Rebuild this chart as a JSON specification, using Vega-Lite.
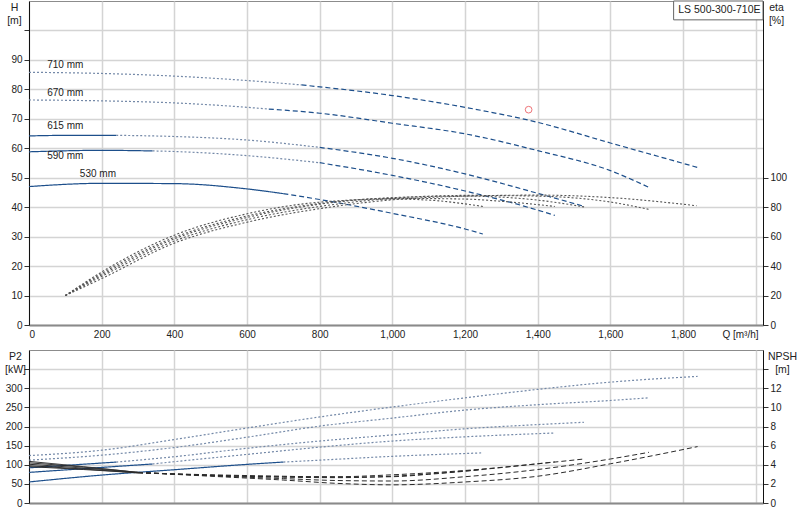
{
  "$schema": "https://vega.github.io/schema/vega-lite/v6.json",
  "background": "white",
  "padding": {"left": 4, "top": 0, "right": 2, "bottom": 4},
  "config": {
    "font": "Liberation Sans",
    "view": {"stroke": "#8c8c8c", "strokeWidth": 1},
    "axis": {
      "labelFont": "Liberation Sans",
      "labelFontSize": 10,
      "labelColor": "#222",
      "labelOverlap": false,
      "titleFont": "Liberation Sans",
      "titleFontSize": 10.5,
      "titleFontWeight": "normal",
      "titleColor": "#222",
      "gridColor": "#d4d4d4",
      "gridWidth": 1.5,
      "tickColor": "#333",
      "domainColor": "#111"
    }
  },
  "datasets": {
    "head": [
      {"d": "710", "zone": "2", "Q": 0, "H": 85.8},
      {"d": "710", "zone": "2", "Q": 200, "H": 85.4},
      {"d": "710", "zone": "2", "Q": 400, "H": 84.5},
      {"d": "710", "zone": "2", "Q": 600, "H": 83.0},
      {"d": "710", "zone": "2", "Q": 750, "H": 81.5},
      {"d": "710", "zone": "3", "Q": 750, "H": 81.5},
      {"d": "710", "zone": "3", "Q": 1000, "H": 77.9},
      {"d": "710", "zone": "3", "Q": 1200, "H": 73.9},
      {"d": "710", "zone": "3", "Q": 1400, "H": 68.8},
      {"d": "710", "zone": "3", "Q": 1600, "H": 61.8},
      {"d": "710", "zone": "3", "Q": 1840, "H": 53.5},
      {"d": "670", "zone": "2", "Q": 0, "H": 76.4},
      {"d": "670", "zone": "2", "Q": 200, "H": 76.1},
      {"d": "670", "zone": "2", "Q": 400, "H": 75.4},
      {"d": "670", "zone": "2", "Q": 600, "H": 73.9},
      {"d": "670", "zone": "2", "Q": 660, "H": 73.3},
      {"d": "670", "zone": "3", "Q": 660, "H": 73.3},
      {"d": "670", "zone": "3", "Q": 800, "H": 71.9},
      {"d": "670", "zone": "3", "Q": 1000, "H": 68.5},
      {"d": "670", "zone": "3", "Q": 1200, "H": 64.9},
      {"d": "670", "zone": "3", "Q": 1400, "H": 59.2},
      {"d": "670", "zone": "3", "Q": 1600, "H": 52.4},
      {"d": "670", "zone": "3", "Q": 1710, "H": 46.5},
      {"d": "615", "zone": "1", "Q": 0, "H": 64.2},
      {"d": "615", "zone": "1", "Q": 120, "H": 64.4},
      {"d": "615", "zone": "1", "Q": 240, "H": 64.4},
      {"d": "615", "zone": "2", "Q": 240, "H": 64.4},
      {"d": "615", "zone": "2", "Q": 400, "H": 64.0},
      {"d": "615", "zone": "2", "Q": 600, "H": 62.8},
      {"d": "615", "zone": "2", "Q": 800, "H": 60.3},
      {"d": "615", "zone": "3", "Q": 800, "H": 60.3},
      {"d": "615", "zone": "3", "Q": 1000, "H": 56.6},
      {"d": "615", "zone": "3", "Q": 1200, "H": 51.3},
      {"d": "615", "zone": "3", "Q": 1400, "H": 44.7},
      {"d": "615", "zone": "3", "Q": 1527, "H": 40.3},
      {"d": "590", "zone": "1", "Q": 0, "H": 58.8},
      {"d": "590", "zone": "1", "Q": 200, "H": 59.3},
      {"d": "590", "zone": "1", "Q": 340, "H": 59.1},
      {"d": "590", "zone": "2", "Q": 340, "H": 59.1},
      {"d": "590", "zone": "2", "Q": 400, "H": 58.9},
      {"d": "590", "zone": "2", "Q": 600, "H": 57.5},
      {"d": "590", "zone": "2", "Q": 800, "H": 55.1},
      {"d": "590", "zone": "3", "Q": 800, "H": 55.1},
      {"d": "590", "zone": "3", "Q": 1000, "H": 50.8},
      {"d": "590", "zone": "3", "Q": 1200, "H": 45.5},
      {"d": "590", "zone": "3", "Q": 1400, "H": 39.0},
      {"d": "590", "zone": "3", "Q": 1447, "H": 37.2},
      {"d": "530", "zone": "1", "Q": 0, "H": 47.0},
      {"d": "530", "zone": "1", "Q": 200, "H": 48.1},
      {"d": "530", "zone": "1", "Q": 400, "H": 48.0},
      {"d": "530", "zone": "1", "Q": 600, "H": 46.2},
      {"d": "530", "zone": "1", "Q": 700, "H": 44.6},
      {"d": "530", "zone": "3", "Q": 700, "H": 44.6},
      {"d": "530", "zone": "3", "Q": 800, "H": 42.6},
      {"d": "530", "zone": "3", "Q": 1000, "H": 37.9},
      {"d": "530", "zone": "3", "Q": 1200, "H": 32.6},
      {"d": "530", "zone": "3", "Q": 1249, "H": 30.9}
    ],
    "eta": [
      {"d": "530", "Q": 100, "eta": 20}, {"d": "530", "Q": 200, "eta": 36}, {"d": "530", "Q": 400, "eta": 61},
      {"d": "530", "Q": 600, "eta": 75.5}, {"d": "530", "Q": 800, "eta": 83.4}, {"d": "530", "Q": 1000, "eta": 85.5},
      {"d": "530", "Q": 1100, "eta": 84.8}, {"d": "530", "Q": 1249, "eta": 80.5},
      {"d": "590", "Q": 100, "eta": 20}, {"d": "590", "Q": 200, "eta": 35}, {"d": "590", "Q": 400, "eta": 59.5},
      {"d": "590", "Q": 600, "eta": 74}, {"d": "590", "Q": 800, "eta": 82.5}, {"d": "590", "Q": 1000, "eta": 86},
      {"d": "590", "Q": 1200, "eta": 85.5}, {"d": "590", "Q": 1300, "eta": 84}, {"d": "590", "Q": 1447, "eta": 80.5},
      {"d": "615", "Q": 100, "eta": 20}, {"d": "615", "Q": 200, "eta": 34}, {"d": "615", "Q": 400, "eta": 58.5},
      {"d": "615", "Q": 600, "eta": 73}, {"d": "615", "Q": 800, "eta": 82}, {"d": "615", "Q": 1000, "eta": 86.5},
      {"d": "615", "Q": 1200, "eta": 87.5}, {"d": "615", "Q": 1400, "eta": 84.8}, {"d": "615", "Q": 1532, "eta": 80},
      {"d": "670", "Q": 100, "eta": 20}, {"d": "670", "Q": 200, "eta": 33}, {"d": "670", "Q": 400, "eta": 57},
      {"d": "670", "Q": 600, "eta": 71.5}, {"d": "670", "Q": 800, "eta": 80.5}, {"d": "670", "Q": 1000, "eta": 86},
      {"d": "670", "Q": 1200, "eta": 88}, {"d": "670", "Q": 1400, "eta": 87.5}, {"d": "670", "Q": 1600, "eta": 83.5},
      {"d": "670", "Q": 1706, "eta": 78.5},
      {"d": "710", "Q": 100, "eta": 20}, {"d": "710", "Q": 200, "eta": 31.5}, {"d": "710", "Q": 400, "eta": 55.6},
      {"d": "710", "Q": 600, "eta": 69.8}, {"d": "710", "Q": 800, "eta": 79}, {"d": "710", "Q": 1000, "eta": 85},
      {"d": "710", "Q": 1200, "eta": 87.5}, {"d": "710", "Q": 1400, "eta": 88.2}, {"d": "710", "Q": 1600, "eta": 86.5},
      {"d": "710", "Q": 1837, "eta": 81}
    ],
    "labels": [
      {"label": "710 mm", "Q": 50, "H": 88.4},
      {"label": "670 mm", "Q": 50, "H": 78.9},
      {"label": "615 mm", "Q": 50, "H": 67.4},
      {"label": "590 mm", "Q": 50, "H": 57.5},
      {"label": "530 mm", "Q": 140, "H": 51.1}
    ],
    "box": [
      {"Q": 1774, "H": 103.6, "Q2": 2020, "H2": 110}
    ],
    "pump": [
      {"name": "LS 500-300-710E", "Q": 1900, "H": 106.8}
    ],
    "duty": [
      {"Q": 1375, "H": 73.1}
    ],
    "p2": [
      {"d": "710", "zone": "2", "Q": 0, "P2": 124}, {"d": "710", "zone": "2", "Q": 200, "P2": 138},
      {"d": "710", "zone": "2", "Q": 400, "P2": 166}, {"d": "710", "zone": "2", "Q": 600, "P2": 196},
      {"d": "710", "zone": "2", "Q": 800, "P2": 225}, {"d": "710", "zone": "2", "Q": 1000, "P2": 251},
      {"d": "710", "zone": "2", "Q": 1200, "P2": 275}, {"d": "710", "zone": "2", "Q": 1400, "P2": 297},
      {"d": "710", "zone": "2", "Q": 1600, "P2": 316}, {"d": "710", "zone": "2", "Q": 1840, "P2": 331},
      {"d": "670", "zone": "2", "Q": 0, "P2": 112}, {"d": "670", "zone": "2", "Q": 200, "P2": 125},
      {"d": "670", "zone": "2", "Q": 400, "P2": 145}, {"d": "670", "zone": "2", "Q": 600, "P2": 172},
      {"d": "670", "zone": "2", "Q": 800, "P2": 201}, {"d": "670", "zone": "2", "Q": 1000, "P2": 222},
      {"d": "670", "zone": "2", "Q": 1200, "P2": 243}, {"d": "670", "zone": "2", "Q": 1400, "P2": 257},
      {"d": "670", "zone": "2", "Q": 1600, "P2": 268}, {"d": "670", "zone": "2", "Q": 1706, "P2": 275},
      {"d": "615", "zone": "1", "Q": 0, "P2": 92}, {"d": "615", "zone": "1", "Q": 240, "P2": 107},
      {"d": "615", "zone": "2", "Q": 240, "P2": 107}, {"d": "615", "zone": "2", "Q": 400, "P2": 121},
      {"d": "615", "zone": "2", "Q": 600, "P2": 143}, {"d": "615", "zone": "2", "Q": 800, "P2": 162},
      {"d": "615", "zone": "2", "Q": 1000, "P2": 178}, {"d": "615", "zone": "2", "Q": 1200, "P2": 194},
      {"d": "615", "zone": "2", "Q": 1400, "P2": 205}, {"d": "615", "zone": "2", "Q": 1527, "P2": 211},
      {"d": "590", "zone": "1", "Q": 0, "P2": 80}, {"d": "590", "zone": "1", "Q": 200, "P2": 93},
      {"d": "590", "zone": "1", "Q": 340, "P2": 102},
      {"d": "590", "zone": "2", "Q": 340, "P2": 102}, {"d": "590", "zone": "2", "Q": 400, "P2": 108},
      {"d": "590", "zone": "2", "Q": 600, "P2": 127}, {"d": "590", "zone": "2", "Q": 800, "P2": 146},
      {"d": "590", "zone": "2", "Q": 1000, "P2": 162}, {"d": "590", "zone": "2", "Q": 1200, "P2": 173},
      {"d": "590", "zone": "2", "Q": 1447, "P2": 183},
      {"d": "530", "zone": "1", "Q": 0, "P2": 55}, {"d": "530", "zone": "1", "Q": 200, "P2": 73},
      {"d": "530", "zone": "1", "Q": 400, "P2": 87}, {"d": "530", "zone": "1", "Q": 600, "P2": 101},
      {"d": "530", "zone": "1", "Q": 700, "P2": 107},
      {"d": "530", "zone": "2", "Q": 700, "P2": 107}, {"d": "530", "zone": "2", "Q": 800, "P2": 112},
      {"d": "530", "zone": "2", "Q": 1000, "P2": 122}, {"d": "530", "zone": "2", "Q": 1249, "P2": 131}
    ],
    "npsh": [
      {"d": "710", "zone": "1", "Q": 0, "NPSH": 4.35}, {"d": "710", "zone": "1", "Q": 150, "NPSH": 3.8},
      {"d": "710", "zone": "1", "Q": 300, "NPSH": 3.2},
      {"d": "710", "zone": "3", "Q": 300, "NPSH": 3.2}, {"d": "710", "zone": "3", "Q": 500, "NPSH": 2.8},
      {"d": "710", "zone": "3", "Q": 700, "NPSH": 2.4}, {"d": "710", "zone": "3", "Q": 850, "NPSH": 2.05},
      {"d": "710", "zone": "3", "Q": 1000, "NPSH": 1.9}, {"d": "710", "zone": "3", "Q": 1200, "NPSH": 2.2},
      {"d": "710", "zone": "3", "Q": 1400, "NPSH": 2.8}, {"d": "710", "zone": "3", "Q": 1600, "NPSH": 4.1},
      {"d": "710", "zone": "3", "Q": 1840, "NPSH": 5.9},
      {"d": "670", "zone": "1", "Q": 0, "NPSH": 4.2}, {"d": "670", "zone": "1", "Q": 150, "NPSH": 3.75},
      {"d": "670", "zone": "1", "Q": 300, "NPSH": 3.2},
      {"d": "670", "zone": "3", "Q": 300, "NPSH": 3.2}, {"d": "670", "zone": "3", "Q": 500, "NPSH": 2.85},
      {"d": "670", "zone": "3", "Q": 700, "NPSH": 2.55}, {"d": "670", "zone": "3", "Q": 850, "NPSH": 2.35},
      {"d": "670", "zone": "3", "Q": 1000, "NPSH": 2.3}, {"d": "670", "zone": "3", "Q": 1200, "NPSH": 2.75},
      {"d": "670", "zone": "3", "Q": 1400, "NPSH": 3.5}, {"d": "670", "zone": "3", "Q": 1600, "NPSH": 4.6},
      {"d": "670", "zone": "3", "Q": 1706, "NPSH": 5.3},
      {"d": "615", "zone": "1", "Q": 0, "NPSH": 4.05}, {"d": "615", "zone": "1", "Q": 150, "NPSH": 3.65},
      {"d": "615", "zone": "1", "Q": 300, "NPSH": 3.2},
      {"d": "615", "zone": "3", "Q": 300, "NPSH": 3.2}, {"d": "615", "zone": "3", "Q": 500, "NPSH": 2.9},
      {"d": "615", "zone": "3", "Q": 700, "NPSH": 2.75}, {"d": "615", "zone": "3", "Q": 850, "NPSH": 2.75},
      {"d": "615", "zone": "3", "Q": 1000, "NPSH": 2.95}, {"d": "615", "zone": "3", "Q": 1200, "NPSH": 3.4},
      {"d": "615", "zone": "3", "Q": 1400, "NPSH": 4.1}, {"d": "615", "zone": "3", "Q": 1527, "NPSH": 4.6},
      {"d": "590", "zone": "1", "Q": 0, "NPSH": 3.9}, {"d": "590", "zone": "1", "Q": 150, "NPSH": 3.55},
      {"d": "590", "zone": "1", "Q": 300, "NPSH": 3.15},
      {"d": "590", "zone": "3", "Q": 300, "NPSH": 3.15}, {"d": "590", "zone": "3", "Q": 500, "NPSH": 2.9},
      {"d": "590", "zone": "3", "Q": 700, "NPSH": 2.7}, {"d": "590", "zone": "3", "Q": 850, "NPSH": 2.65},
      {"d": "590", "zone": "3", "Q": 1000, "NPSH": 2.8}, {"d": "590", "zone": "3", "Q": 1200, "NPSH": 3.35},
      {"d": "590", "zone": "3", "Q": 1447, "NPSH": 4.3},
      {"d": "530", "zone": "1", "Q": 0, "NPSH": 3.8}, {"d": "530", "zone": "1", "Q": 150, "NPSH": 3.5},
      {"d": "530", "zone": "1", "Q": 300, "NPSH": 3.15},
      {"d": "530", "zone": "3", "Q": 300, "NPSH": 3.15}, {"d": "530", "zone": "3", "Q": 500, "NPSH": 2.95},
      {"d": "530", "zone": "3", "Q": 700, "NPSH": 2.8}, {"d": "530", "zone": "3", "Q": 850, "NPSH": 2.7},
      {"d": "530", "zone": "3", "Q": 1000, "NPSH": 2.75}, {"d": "530", "zone": "3", "Q": 1100, "NPSH": 3.0},
      {"d": "530", "zone": "3", "Q": 1249, "NPSH": 3.5}
    ]
  },
  "bounds": "flush",
  "spacing": 25,
  "vconcat": [
    {
      "width": 734,
      "height": 324,
      "layer": [
        {
          "encoding": {
            "x": {
              "field": "Q", "type": "quantitative",
              "scale": {"domain": [0, 2020], "nice": false, "zero": false},
              "axis": {
                "values": [0, 200, 400, 600, 800, 1000, 1200, 1400, 1600, 1800, 2000],
                "format": ",d",
                "labelExpr": "datum.value >= 2000 ? '' : datum.label",
                "labelOverlap": false,
                "ticks": false,
                "labelPadding": 4,
                "domainColor": "#8a8a8a",
                "domainWidth": 2,
                "title": "Q [m³/h]",
                "titleFontSize": 10,
                "titleAlign": "center",
                "titleBaseline": "middle",
                "titleX": 711,
                "titleY": 9
              }
            },
            "y": {
              "field": "H", "type": "quantitative",
              "scale": {"domain": [0, 110], "nice": false},
              "axis": {
                "values": [0, 10, 20, 30, 40, 50, 60, 70, 80, 90, 100],
                "labelExpr": "datum.value >= 100 ? '' : datum.label",
                "labelOverlap": false,
                "tickSize": 5,
                "labelPadding": 2,
                "title": ["H", "[m]"],
                "titleAngle": 0,
                "titleAlign": "center",
                "titleBaseline": "top",
                "titleLineHeight": 13,
                "titleX": -15,
                "titleY": 1
              }
            }
          },
          "layer": [
            {
              "data": {"name": "head"},
              "mark": {"type": "line", "interpolate": "monotone", "strokeWidth": 1.2},
              "encoding": {
                "color": {
                  "field": "zone", "type": "nominal", "legend": null,
                  "scale": {"domain": ["1", "2", "3"], "range": ["#1d4f8b", "#7489a8", "#1d4f8b"]}
                },
                "strokeDash": {
                  "field": "zone", "type": "nominal", "legend": null,
                  "scale": {"domain": ["1", "2", "3"], "range": [[1, 0], [2, 2], [5, 3]]}
                },
                "detail": {"field": "d"}
              }
            },
            {
              "data": {"name": "labels"},
              "mark": {"type": "text", "align": "left", "baseline": "middle", "fontSize": 10, "font": "Liberation Sans", "color": "#222"},
              "encoding": {
                "text": {"field": "label"}
              }
            },
            {
              "data": {"name": "box"},
              "mark": {"type": "rect", "fill": "white", "stroke": "#666", "strokeWidth": 1},
              "encoding": {
                "x2": {"field": "Q2"},
                "y2": {"field": "H2"}
              }
            },
            {
              "data": {"name": "pump"},
              "mark": {"type": "text", "align": "center", "baseline": "middle", "fontSize": 10.5, "font": "Liberation Sans", "color": "#222"},
              "encoding": {
                "text": {"field": "name"}
              }
            },
            {
              "data": {"name": "duty"},
              "mark": {"type": "point", "shape": "circle", "filled": false, "color": "#e8393f", "size": 45, "strokeWidth": 1},
              "encoding": {}
            }
          ]
        },
        {
          "data": {"name": "eta"},
          "mark": {"type": "line", "interpolate": "monotone", "strokeWidth": 1.1, "color": "#555", "strokeDash": [2, 2]},
          "encoding": {
            "x": {"field": "Q", "type": "quantitative"},
            "y": {
              "field": "eta", "type": "quantitative",
              "scale": {"domain": [0, 220], "nice": false},
              "axis": {
                "orient": "right",
                "values": [0, 20, 40, 60, 80, 100],
                "labelOverlap": false,
                "grid": false,
                "tickSize": 5,
                "labelPadding": 2,
                "title": ["eta", "[%]"],
                "titleAngle": 0,
                "titleAlign": "center",
                "titleBaseline": "top",
                "titleLineHeight": 13,
                "titleX": 13,
                "titleY": 1
              }
            },
            "detail": {"field": "d"}
          }
        }
      ],
      "resolve": {"scale": {"y": "independent"}}
    },
    {
      "width": 734,
      "height": 153,
      "layer": [
        {
          "data": {"name": "p2"},
          "mark": {"type": "line", "interpolate": "monotone", "strokeWidth": 1.2},
          "encoding": {
            "x": {
              "field": "Q", "type": "quantitative",
              "scale": {"domain": [0, 2020], "nice": false, "zero": false},
              "axis": {
                "values": [0, 200, 400, 600, 800, 1000, 1200, 1400, 1600, 1800, 2000],
                "labels": false,
                "ticks": false,
                "domainColor": "#8a8a8a",
                "domainWidth": 2,
                "title": null
              }
            },
            "y": {
              "field": "P2", "type": "quantitative",
              "scale": {"domain": [0, 400], "nice": false},
              "axis": {
                "values": [0, 50, 100, 150, 200, 250, 300, 350],
                "labelExpr": "datum.value >= 350 ? '' : datum.label",
                "labelOverlap": false,
                "tickSize": 5,
                "labelPadding": 2,
                "title": ["P2", "[kW]"],
                "titleAngle": 0,
                "titleAlign": "center",
                "titleBaseline": "top",
                "titleLineHeight": 13,
                "titleX": -14,
                "titleY": 1
              }
            },
            "color": {
              "field": "zone", "type": "nominal", "legend": null,
              "scale": {"domain": ["1", "2", "3"], "range": ["#1d4f8b", "#7489a8", "#1d4f8b"]}
            },
            "strokeDash": {
              "field": "zone", "type": "nominal", "legend": null,
              "scale": {"domain": ["1", "2", "3"], "range": [[1, 0], [2, 2], [5, 3]]}
            },
            "detail": {"field": "d"}
          }
        },
        {
          "data": {"name": "npsh"},
          "mark": {"type": "line", "interpolate": "monotone", "strokeWidth": 1, "color": "#2a2a2a"},
          "encoding": {
            "x": {"field": "Q", "type": "quantitative"},
            "y": {
              "field": "NPSH", "type": "quantitative",
              "scale": {"domain": [0, 16], "nice": false},
              "axis": {
                "orient": "right",
                "values": [0, 2, 4, 6, 8, 10, 12, 14],
                "labelExpr": "datum.value >= 14 ? '' : datum.label",
                "labelOverlap": false,
                "grid": false,
                "tickSize": 5,
                "labelPadding": 2,
                "title": ["NPSH", "[m]"],
                "titleAngle": 0,
                "titleAlign": "center",
                "titleBaseline": "top",
                "titleLineHeight": 13,
                "titleX": 19,
                "titleY": 1
              }
            },
            "strokeDash": {
              "field": "zone", "type": "nominal", "legend": null,
              "scale": {"domain": ["1", "2", "3"], "range": [[1, 0], [2, 2], [5, 3]]}
            },
            "detail": {"field": "d"}
          }
        }
      ],
      "resolve": {"scale": {"y": "independent"}}
    }
  ]
}
